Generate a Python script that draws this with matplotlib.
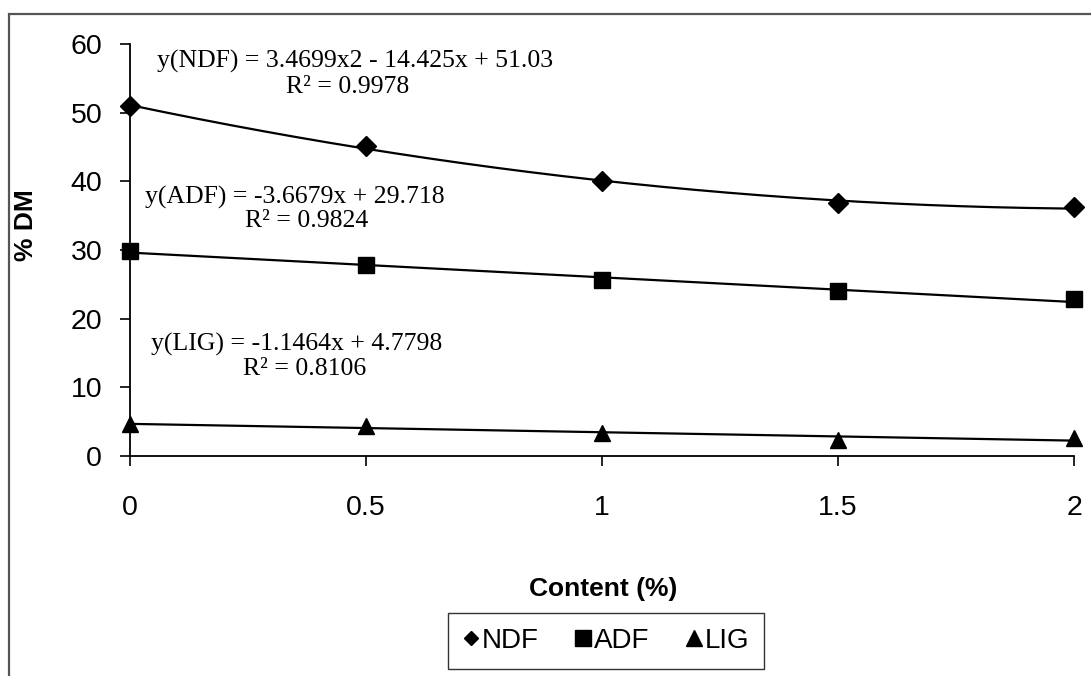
import numpy as np
import matplotlib
matplotlib.use("Agg")
import matplotlib.pyplot as plt
from matplotlib.patches import Rectangle
from matplotlib.lines import Line2D

content = [0, 0.5, 1, 1.5, 2]
ndf = [50.9, 45.2, 40.0, 36.9, 36.2]
adf = [29.9, 27.8, 25.6, 24.0, 22.8]
lig = [4.6, 4.4, 3.4, 2.3, 2.6]
series_names = ["NDF", "ADF", "LIG"]
xticklabels = ["0", "0.5", "1", "1.5", "2"]
yticks = [0, 10, 20, 30, 40, 50, 60]
eq_ndf = "y(NDF) = 3.4699x2 - 14.425x + 51.03"
r2_ndf = "R² = 0.9978"
eq_adf = "y(ADF) = -3.6679x + 29.718"
r2_adf = "R² = 0.9824"
eq_lig = "y(LIG) = -1.1464x + 4.7798"
r2_lig = "R² = 0.8106"

plt.rcParams['font.family'] = ['Liberation Sans', 'DejaVu Sans']

fig = plt.figure(figsize=(10.91, 6.76), dpi=100)
fig.patch.set_facecolor('white')

# outer chart frame (top-left corner visible, extends beyond image)
fig.patches.append(Rectangle((9/1091, -0.1), 1.2, 1.1 - 14/676,
                             transform=fig.transFigure, fill=False,
                             edgecolor='#555555', linewidth=1.6, zorder=0))

ax = fig.add_axes([130/1091, 1 - 456/676, 944/1091, 412/676])
ax.set_xlim(0, 2)
ax.set_ylim(0, 60)

for sp in ['top', 'right']:
    ax.spines[sp].set_visible(False)
for sp in ['left', 'bottom']:
    ax.spines[sp].set_linewidth(1.3)
    ax.spines[sp].set_color('black')

ax.set_xticks(content)
ax.set_xticklabels(xticklabels)
ax.set_yticks(yticks)
ax.tick_params(axis='both', direction='out', length=7, width=1.2, labelsize=20.5)
ax.tick_params(axis='x', pad=21)
ax.tick_params(axis='y', pad=13)

x = np.array(content)
xs = np.linspace(0, 2, 200)
fits = [(ndf, 2, 'D', 10.5), (adf, 1, 's', 11), (lig, 1, '^', 11)]
for ys, deg, mk, ms in fits:
    coef = np.polyfit(x, ys, deg)
    ax.plot(xs, np.polyval(coef, xs), color='black', lw=1.6, clip_on=False, zorder=2)
    ax.plot(x, ys, linestyle='none', marker=mk, markersize=ms, color='black',
            clip_on=False, zorder=3)

serif = ['Liberation Serif', 'DejaVu Serif']
tkw = dict(fontsize=18.5, family=serif, ha='center', va='center')
ax.text(0.477, 57.5, eq_ndf, **tkw)
ax.text(0.462, 53.8, r2_ndf, **tkw)
ax.text(0.35, 37.7, eq_adf, **tkw)
ax.text(0.375, 34.2, r2_adf, **tkw)
ax.text(0.352, 16.3, eq_lig, **tkw)
ax.text(0.37, 12.7, r2_lig, **tkw)

ax.set_xlabel("Content (%)", fontsize=19, fontweight='bold')
ax.xaxis.set_label_coords((603 - 130) / 944, (456 - 577) / 412)
ax.set_ylabel("% DM", fontsize=19, fontweight='bold')
ax.yaxis.set_label_coords((38 - 130) / 944, (456 - 225) / 412)

handles = [Line2D([], [], linestyle='none', marker='D', markersize=7, color='black'),
           Line2D([], [], linestyle='none', marker='s', markersize=11, color='black'),
           Line2D([], [], linestyle='none', marker='^', markersize=11, color='black')]
leg = fig.legend(handles, series_names, loc='center', bbox_to_anchor=(606/1091, 1 - 641/676),
                 ncol=3, fontsize=20, frameon=True, fancybox=False, edgecolor='black',
                 handlelength=0.6, handletextpad=0.08, columnspacing=1.3, borderpad=0.55,
                 borderaxespad=0)
leg.get_frame().set_linewidth(1.0)

fig.savefig("out.png", dpi=100, facecolor='white')
